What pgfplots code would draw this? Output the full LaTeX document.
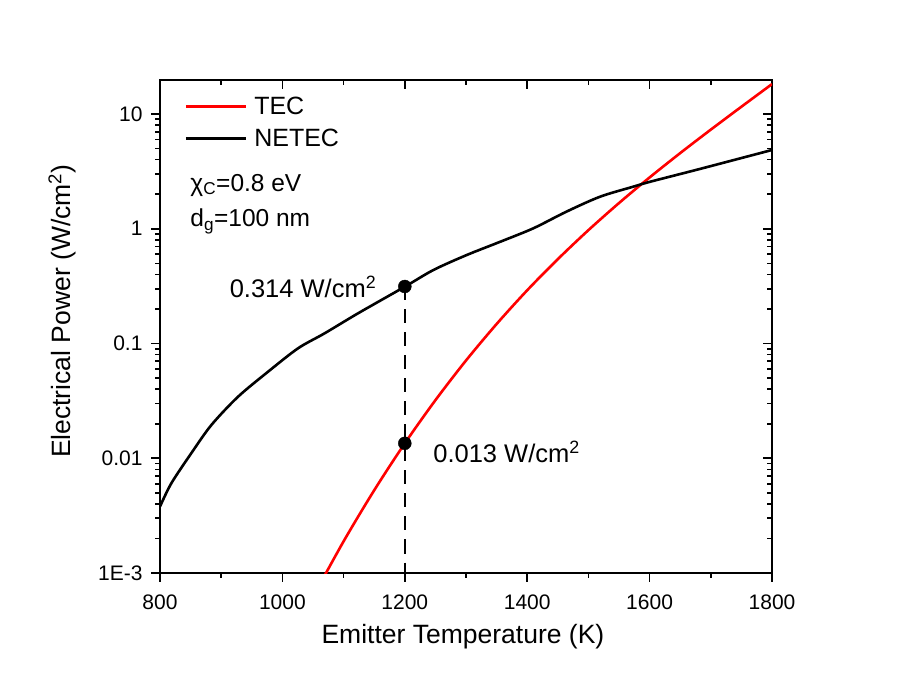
\documentclass[border=0pt]{standalone}
\usepackage{pgfplots}
\pgfplotsset{compat=1.18}
\usepackage{fontspec}
\setmainfont{Liberation Sans}
\begin{document}
\begin{tikzpicture}
\useasboundingbox (0,0) rectangle (897pt,687pt);
\begin{axis}[
  scale only axis, width=612pt, height=493pt,
  at={(160pt,114pt)}, anchor=south west,
  xmin=800, xmax=1800, ymin=0.001, ymax=19.8, ymode=log,
  axis line style={line width=1.7pt},
  tick style={line width=1.6pt, black},
  major tick length=9pt, minor tick length=5pt,
  xtick={800,1000,...,1800}, minor xtick={900,1100,...,1700},
  ytick={0.001,0.01,0.1,1,10},
  tick pos=right, tick align=inside,
  xticklabels={}, yticklabels={}]
\end{axis}
\begin{axis}[
  scale only axis, width=612pt, height=493pt,
  at={(160pt,114pt)}, anchor=south west,
  xmin=800, xmax=1800, ymin=0.001, ymax=19.8, ymode=log,
  axis line style={line width=1.7pt},
  tick style={line width=1.6pt, black},
  major tick length=9pt, minor tick length=5pt,
  xtick={800,1000,...,1800}, minor xtick={900,1100,...,1700},
  ytick={0.001,0.01,0.1,1,10},
  tick pos=left, tick align=outside,
  yticklabels={1E-3,0.01,0.1,1,10},
  /pgf/number format/assume math mode=true,
  /pgf/number format/1000 sep={},
  ticklabel style={font=\fontsize{21}{25}\selectfont},
  xticklabel style={yshift=-9pt},
  yticklabel style={xshift=-5pt},
  xlabel={Emitter Temperature (K)},
  ylabel={Electrical Power (W/cm\textsuperscript{2})},
  label style={font=\fontsize{26.5}{30}\selectfont},
  xlabel style={at={(axis description cs:0.495,-0.13)}, anchor=center},
  ylabel style={at={(axis description cs:-0.16,0.531)}, anchor=center},
  legend style={at={(axis description cs:0.04,0.97)}, anchor=north west, draw=none, fill=none,
    font=\fontsize{25}{29}\selectfont, row sep=9pt, inner sep=0pt, cells={anchor=west}},
  legend image code/.code={\draw[#1] (0pt,0pt) -- (60pt,0pt);},
]
\addplot[red, line width=2.6pt, smooth] coordinates {
(1050,0.000619) (1100,0.001888) (1150,0.00526) (1200,0.01349) (1250,0.03206)
(1300,0.07112) (1350,0.1479) (1400,0.2911) (1450,0.5433) (1500,0.9725)
(1550,1.676) (1600,2.801) (1650,4.566) (1700,7.314) (1750,11.58) (1800,18.24)};
\addlegendentry{\hspace{5pt}TEC}
\addplot[black, line width=2.6pt, smooth] coordinates {
(800,0.00379) (818.5,0.00605) (851,0.01104) (884,0.0195) (927.5,0.03436) (976.5,0.05675)
(1025.5,0.09078) (1069,0.1227) (1123.5,0.1832) (1200,0.3126) (1247,0.4378) (1301,0.590) (1356,0.771)
(1410,1.009) (1464,1.409) (1519,1.903) (1573,2.325) (1601,2.57) (1682,3.32) (1800,4.86)};
\addlegendentry{\hspace{5pt}NETEC}
\addplot[black, line width=2.5pt, dash pattern=on 14pt off 9pt, forget plot] coordinates {(1200,0.314) (1200,0.001)};
\addplot[black, only marks, mark=*, mark size=6.5pt, forget plot] coordinates {(1200,0.314) (1200,0.0135)};
\node[anchor=west, font=\fontsize{24.5}{28}\selectfont] at (axis description cs:0.044,0.787) {χ\textsubscript{C}=0.8 eV};
\node[anchor=west, font=\fontsize{24.5}{28}\selectfont] at (axis description cs:0.044,0.713) {d\textsubscript{g}=100 nm};
\node[anchor=east, font=\fontsize{25.5}{29}\selectfont, xshift=-25pt] at (axis cs:1200,0.314) {0.314 W/cm\textsuperscript{2}};
\node[anchor=west, font=\fontsize{25.5}{29}\selectfont, xshift=25pt, yshift=-9pt] at (axis cs:1200,0.0135) {0.013 W/cm\textsuperscript{2}};
\end{axis}
\end{tikzpicture}
\end{document}
